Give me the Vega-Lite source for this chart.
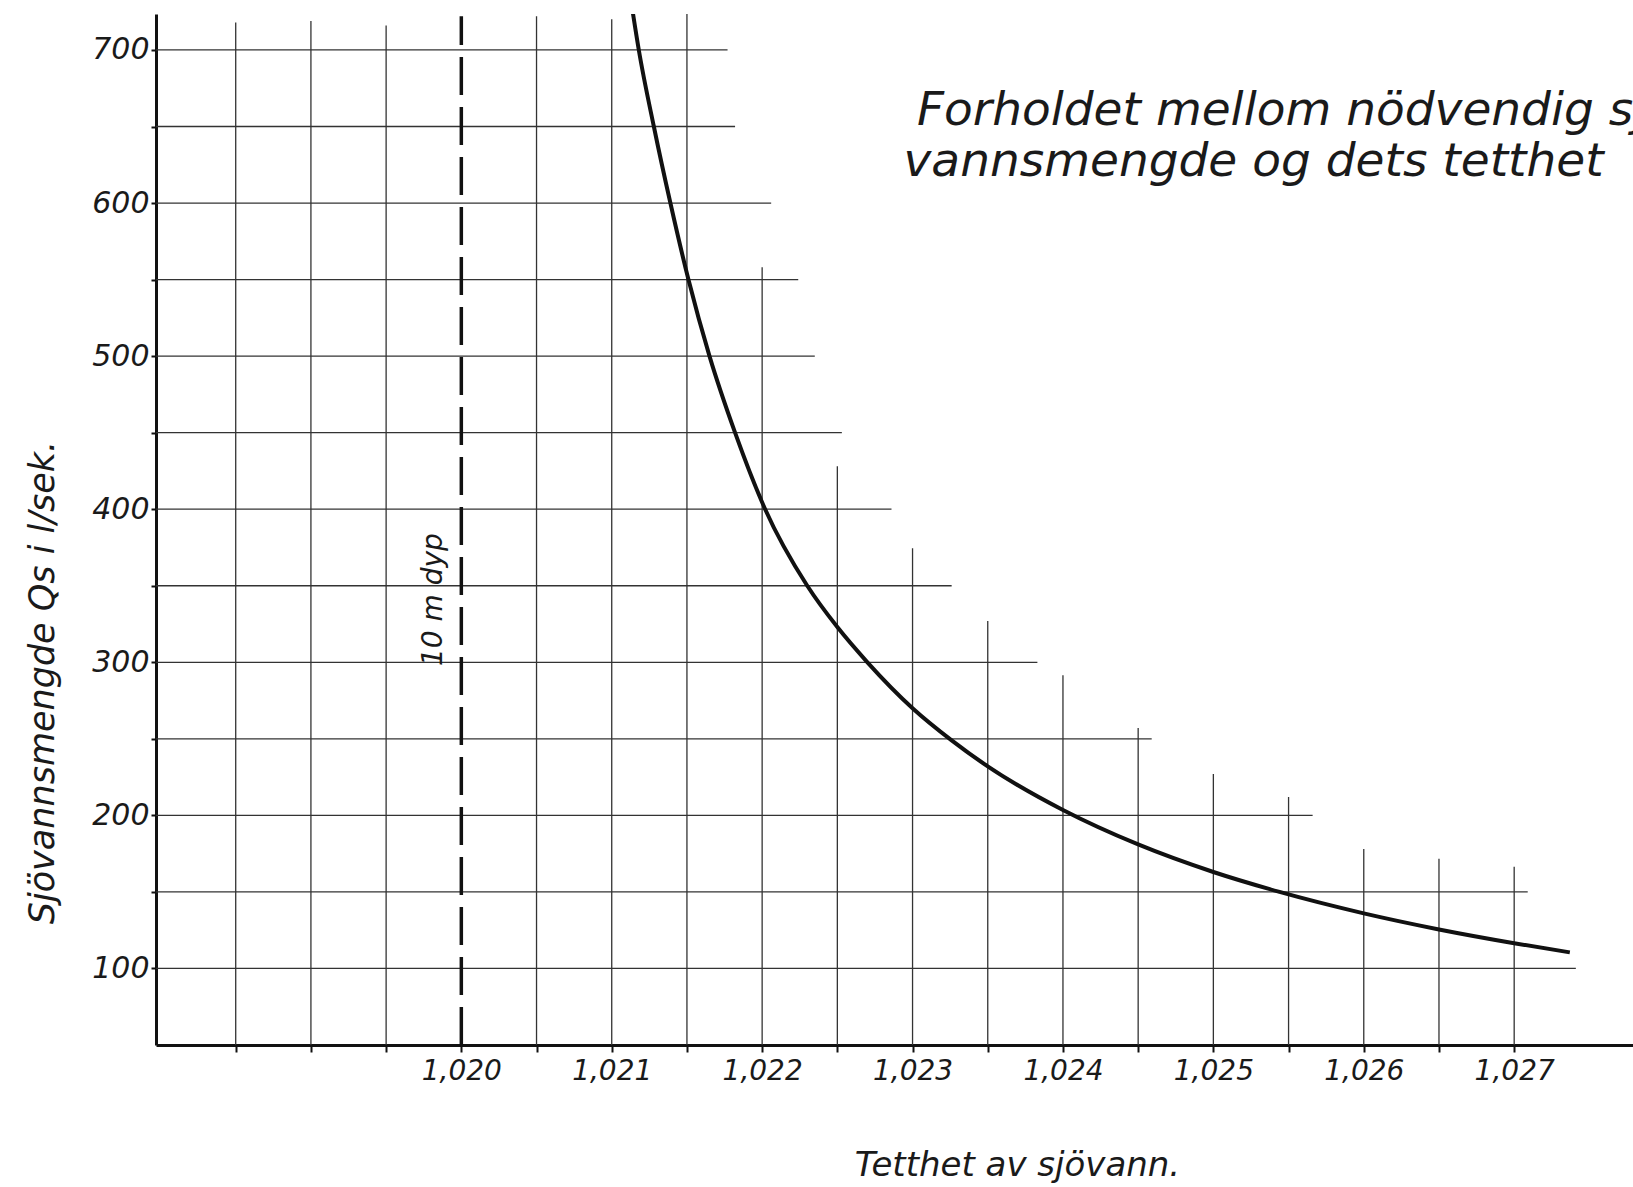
{
  "$schema": "https://vega.github.io/schema/vega-lite/v6.json",
  "width": 1477,
  "height": 1031,
  "autosize": "none",
  "padding": {"left": 156, "top": 14, "right": 0, "bottom": 142},
  "background": "#ffffff",
  "config": {
    "view": {"stroke": null},
    "font": "DejaVu Sans"
  },
  "datasets": {
    "hgrid": [
      {"q": 700, "d": 1.01797, "d2": 1.02177},
      {"q": 650, "d": 1.01797, "d2": 1.02182},
      {"q": 600, "d": 1.01797, "d2": 1.02206},
      {"q": 550, "d": 1.01797, "d2": 1.02224},
      {"q": 500, "d": 1.01797, "d2": 1.02235},
      {"q": 450, "d": 1.01797, "d2": 1.02253},
      {"q": 400, "d": 1.01797, "d2": 1.02286},
      {"q": 350, "d": 1.01797, "d2": 1.02326},
      {"q": 300, "d": 1.01797, "d2": 1.02383},
      {"q": 250, "d": 1.01797, "d2": 1.02459},
      {"q": 200, "d": 1.01797, "d2": 1.02566},
      {"q": 150, "d": 1.01797, "d2": 1.02709},
      {"q": 100, "d": 1.01797, "d2": 1.02741}
    ],
    "vgrid": [
      {"d": 1.0185, "q": 50, "q2": 718},
      {"d": 1.019, "q": 50, "q2": 719},
      {"d": 1.0195, "q": 50, "q2": 716},
      {"d": 1.0205, "q": 50, "q2": 722},
      {"d": 1.021, "q": 50, "q2": 720},
      {"d": 1.0215, "q": 50, "q2": 723.5},
      {"d": 1.022, "q": 50, "q2": 558},
      {"d": 1.0225, "q": 50, "q2": 428},
      {"d": 1.023, "q": 50, "q2": 374.5},
      {"d": 1.0235, "q": 50, "q2": 327},
      {"d": 1.024, "q": 50, "q2": 291.5},
      {"d": 1.0245, "q": 50, "q2": 257},
      {"d": 1.025, "q": 50, "q2": 227},
      {"d": 1.0255, "q": 50, "q2": 212},
      {"d": 1.026, "q": 50, "q2": 178},
      {"d": 1.0265, "q": 50, "q2": 171.6},
      {"d": 1.027, "q": 50, "q2": 166.5}
    ],
    "depth": [
      {"d": 1.020, "q": 50, "q2": 722}
    ],
    "curve": [
      {"d": 1.02113, "q": 731},
      {"d": 1.02118, "q": 700},
      {"d": 1.02128, "q": 650},
      {"d": 1.02139, "q": 600},
      {"d": 1.02151, "q": 550},
      {"d": 1.02165, "q": 500},
      {"d": 1.02182, "q": 450},
      {"d": 1.02202, "q": 400},
      {"d": 1.0223, "q": 350},
      {"d": 1.0225, "q": 323},
      {"d": 1.0227, "q": 300},
      {"d": 1.023, "q": 270},
      {"d": 1.02326, "q": 249},
      {"d": 1.0235, "q": 232},
      {"d": 1.024, "q": 203.5},
      {"d": 1.0245, "q": 181},
      {"d": 1.025, "q": 163},
      {"d": 1.02544, "q": 150},
      {"d": 1.026, "q": 136},
      {"d": 1.0265, "q": 125.5},
      {"d": 1.027, "q": 116.5},
      {"d": 1.02737, "q": 110.5}
    ],
    "heading": [
      {"d": 1.02303, "q": 651, "label": "Forholdet mellom nödvendig sjö-"},
      {"d": 1.02294, "q": 618, "label": "vannsmengde og dets tetthet"}
    ],
    "note": [
      {"d": 1.01982, "q": 341, "label": "10 m dyp"}
    ]
  },
  "encoding": {
    "x": {
      "field": "d",
      "type": "quantitative",
      "scale": {"domain": [1.01797, 1.02779], "nice": false, "zero": false},
      "axis": {
        "title": "Tetthet av sjövann.",
        "values": [1.0185, 1.019, 1.0195, 1.020, 1.0205, 1.021, 1.0215, 1.022, 1.0225, 1.023, 1.0235, 1.024, 1.0245, 1.025, 1.0255, 1.026, 1.0265, 1.027],
        "labelExpr": "datum.value > 1.0199 && abs(datum.value*1000 - round(datum.value*1000)) < 0.01 ? replace(format(datum.value, '.3f'), '.', ',') : ''",
        "grid": false,
        "domainColor": "#111111",
        "domainWidth": 3,
        "tickColor": "#111111",
        "tickWidth": 2,
        "tickSize": 7,
        "labelFont": "DejaVu Sans",
        "labelFontStyle": "italic",
        "labelFontSize": 28,
        "labelColor": "#1a1a1a",
        "labelPadding": 5,
        "labelFlush": false,
        "labelOverlap": false,
        "titleFont": "DejaVu Sans",
        "titleFontStyle": "italic",
        "titleFontWeight": "normal",
        "titleFontSize": 34,
        "titleColor": "#1a1a1a",
        "titleX": 861,
        "titleY": 130,
        "titleAlign": "center",
        "titleBaseline": "alphabetic",
        "titleAnchor": null
      }
    },
    "y": {
      "field": "q",
      "type": "quantitative",
      "scale": {"domain": [50, 723.5], "nice": false, "zero": false},
      "axis": {
        "title": "Sjövannsmengde Qs i l/sek.",
        "values": [100, 150, 200, 250, 300, 350, 400, 450, 500, 550, 600, 650, 700],
        "labelExpr": "datum.value % 100 == 0 ? datum.label : ''",
        "grid": false,
        "domainColor": "#111111",
        "domainWidth": 3,
        "tickColor": "#111111",
        "tickWidth": 2,
        "tickSize": 5,
        "labelFont": "DejaVu Sans",
        "labelFontStyle": "italic",
        "labelFontSize": 30,
        "labelColor": "#1a1a1a",
        "labelPadding": 2,
        "labelOverlap": false,
        "labelFlush": false,
        "titleFont": "DejaVu Sans",
        "titleFontStyle": "italic",
        "titleFontWeight": "normal",
        "titleFontSize": 35,
        "titleColor": "#1a1a1a",
        "titleAngle": 270,
        "titleX": -114,
        "titleY": 668,
        "titleAlign": "center",
        "titleBaseline": "middle",
        "titleAnchor": null
      }
    }
  },
  "layer": [
    {
      "data": {"name": "hgrid"},
      "mark": {"type": "rule", "color": "#333333", "strokeWidth": 1.3},
      "encoding": {"x2": {"field": "d2"}}
    },
    {
      "data": {"name": "vgrid"},
      "mark": {"type": "rule", "color": "#333333", "strokeWidth": 1.3},
      "encoding": {"y2": {"field": "q2"}}
    },
    {
      "data": {"name": "depth"},
      "mark": {"type": "rule", "color": "#111111", "strokeWidth": 3.5, "strokeDash": [38, 12]},
      "encoding": {"y2": {"field": "q2"}}
    },
    {
      "data": {"name": "curve"},
      "mark": {"type": "line", "color": "#111111", "strokeWidth": 4, "interpolate": "monotone", "clip": true},
      "encoding": {"order": {"field": "d", "type": "quantitative"}}
    },
    {
      "data": {"name": "heading"},
      "mark": {"type": "text", "align": "left", "baseline": "alphabetic", "font": "DejaVu Sans", "fontStyle": "italic", "fontSize": 47, "color": "#1a1a1a"},
      "encoding": {"text": {"field": "label"}}
    },
    {
      "data": {"name": "note"},
      "mark": {"type": "text", "align": "center", "baseline": "middle", "angle": 270, "font": "DejaVu Sans", "fontStyle": "italic", "fontSize": 28, "color": "#1a1a1a"},
      "encoding": {"text": {"field": "label"}}
    }
  ]
}
